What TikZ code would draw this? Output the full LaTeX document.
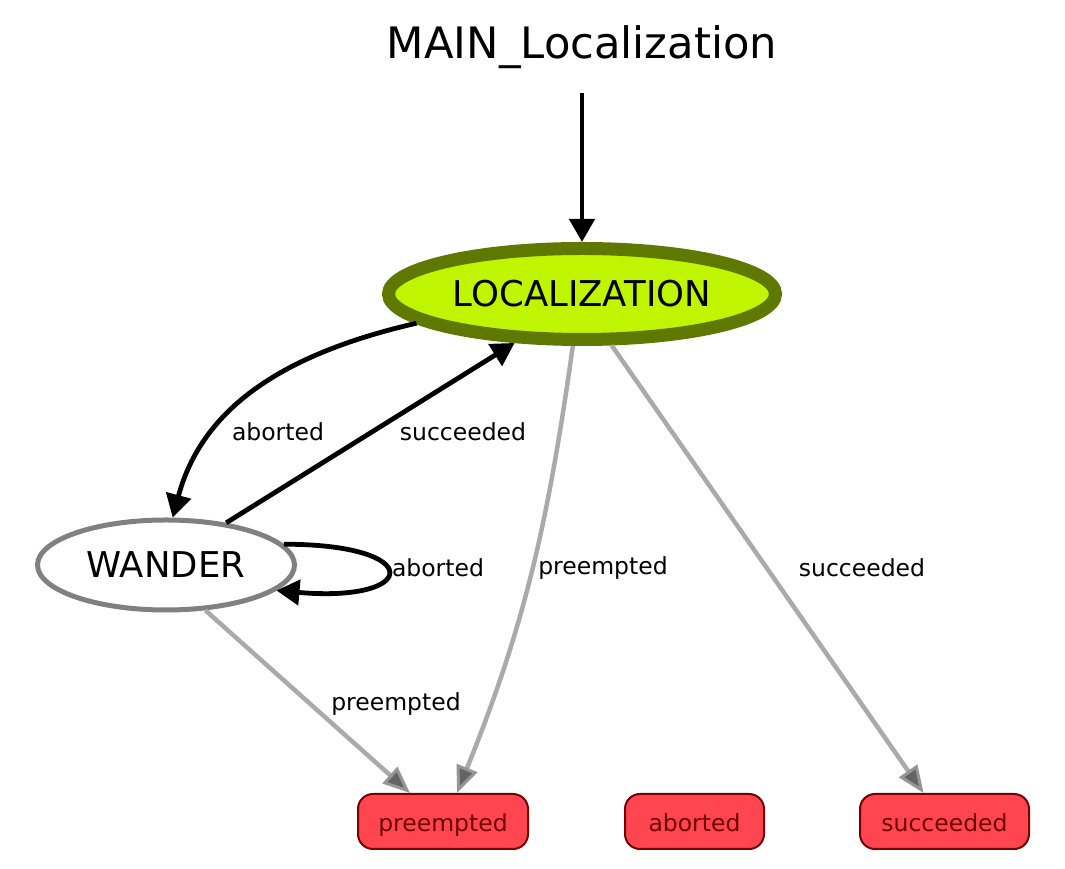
\documentclass[tikz,border=0pt]{standalone}
\usepackage{fontspec}
\setmainfont{DejaVu Sans}
\usetikzlibrary{arrows.meta,shapes.geometric}
\definecolor{locfill}{RGB}{191,245,0}
\definecolor{locdraw}{RGB}{95,120,0}
\definecolor{wanddraw}{RGB}{128,128,128}
\definecolor{edgegray}{RGB}{170,170,170}
\definecolor{tipedge}{RGB}{150,150,150}
\definecolor{tipgray}{RGB}{100,100,100}
\definecolor{outfill}{RGB}{255,70,80}
\definecolor{outdraw}{RGB}{120,0,0}
\definecolor{outtext}{RGB}{110,0,0}

\begin{document}
\begin{tikzpicture}[x=1pt,y=1pt,
 state/.style={ellipse,inner sep=0pt,font=\fontsize{35.5}{42}\selectfont},
 outcome/.style={rectangle,rounded corners=15pt,draw=outdraw,fill=outfill,text=outtext,line width=2pt,minimum height=55pt,inner sep=0pt,text height=20pt,text depth=0pt,font=\fontsize{23.5}{28}\selectfont},
 lbl/.style={font=\fontsize{23.5}{28}\selectfont},
 blk/.style={->,>={Triangle[length=23pt,width=25pt]},line width=4.8pt},
 gry/.style={->,>={Triangle[length=27pt,width=22pt,color=tipedge,fill=tipgray,line width=3pt]},line width=4.5pt,draw=edgegray}]
 \useasboundingbox (0,0) rectangle (1065,869);
 \node[font=\fontsize{43.3}{50}\selectfont] (main) at (582,822) {MAIN\_Localization}; %タイトル
 \coordinate (entry) at (582,776); %入口
 \node[state,draw=locdraw,fill=locfill,line width=13pt,minimum width=387pt,minimum height=91pt] (loc) at (582,575) {LOCALIZATION}; %初期状態
 \node[state,draw=wanddraw,line width=5pt,minimum width=257pt,minimum height=90pt] (wander) at (166,304) {WANDER};
 \node[outcome,minimum width=170pt] (pre) at (443,47.5) {preempted}; %結果
 \node[outcome,minimum width=139pt] (abo) at (694.5,47.5) {aborted};
 \node[outcome,minimum width=169pt] (suc) at (944.5,47.5) {succeeded};
 \draw[blk] (entry)--(loc);
 \draw[blk] (loc.190) to[out=193,in=75] (wander.82); %aborted
 \draw[blk] (wander.35)--(loc.216); %succeeded
 \draw[blk] (wander.10) to[out=0,in=-5,looseness=7.8] (wander.-13); %ループ
 \draw[gry] (loc.260) to[out=262,in=68] ([xshift=14pt]pre.north);
 \draw[gry] (loc.-60)--([xshift=-21pt]suc.north);
 \draw[gry] (wander.-49)--([xshift=-33pt]pre.north);
 \node[lbl] (la) at (278,437) {aborted}; %ラベル
 \node[lbl] (ls) at (463,437) {succeeded};
 \node[lbl] (lw) at (438,301) {aborted};
 \node[lbl] (lp) at (603,301) {preempted};
 \node[lbl] (lq) at (862,301) {succeeded};
 \node[lbl] (lr) at (396,165) {preempted};
\end{tikzpicture}
\end{document}
